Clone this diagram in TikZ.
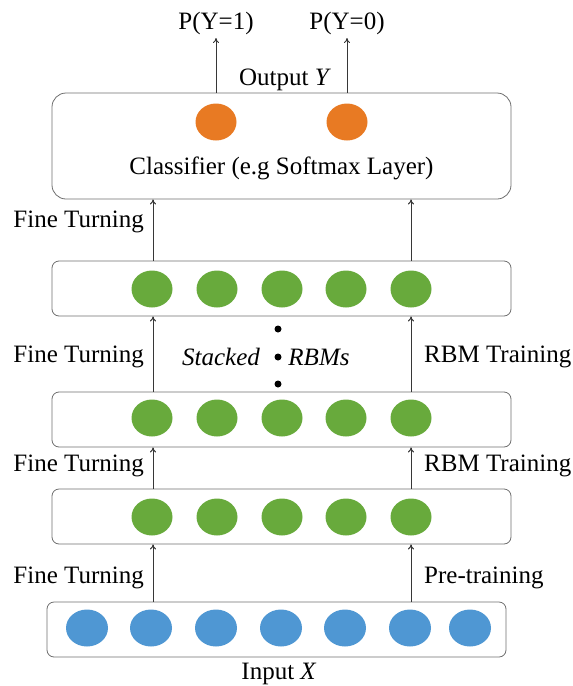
\documentclass[tikz,border=0pt]{standalone}
\usepackage{fontspec}
\setmainfont{Liberation Serif}
\usetikzlibrary{arrows.meta,shapes.geometric}

\definecolor{outorange}{RGB}{232,122,35}
\definecolor{hidgreen}{RGB}{104,170,60}
\definecolor{inblue}{RGB}{79,151,211}
\definecolor{boxline}{RGB}{110,110,110}
\definecolor{arrowgrey}{RGB}{55,55,55}

\begin{document}
\begin{tikzpicture}[x=1pt,y=-1pt,
  layer/.style={draw=boxline, line width=0.8pt, rounded corners=7pt, minimum width=459pt, minimum height=55pt, inner sep=0pt},
  unit/.style={ellipse, minimum width=41pt, minimum height=37pt, inner sep=0pt},
  dot/.style={circle, fill=black, minimum size=7pt, inner sep=0pt},
  lbl/.style={font=\fontsize{25}{30}\selectfont, inner sep=2pt},
  >={To[length=5pt,width=6pt]},
  link/.style={->, line width=1pt, draw=arrowgrey}]

\useasboundingbox (0,0) rectangle (573,686);

% classifier
\node[layer, rounded corners=14pt, minimum height=106pt] (cls) at (281.5,146) {};
\node[lbl] (clstext) at (281.5,168) {Classifier (e.g Softmax Layer)};
\node[unit, fill=outorange] (o1) at (216,122) {};
\node[unit, fill=outorange] (o0) at (347,122) {};
\node[lbl] (outy) at (285,80) {Output \textit{Y}};
\node[lbl, anchor=south, inner sep=3pt] (p1) at (216,38) {P(Y=1)};
\node[lbl, anchor=south, inner sep=3pt] (p0) at (347,38) {P(Y=0)};
\draw[link] (cls.north -| o1) -- (p1.south);
\draw[link] (cls.north -| o0) -- (p0.south);

% stacked RBMs
\node[layer] (rbm3) at (281.5,288.5) {};
\node[unit, fill=hidgreen] (h31) at (152,289) {};
\node[unit, fill=hidgreen] (h32) at (217,289) {};
\node[unit, fill=hidgreen] (h33) at (282,289) {};
\node[unit, fill=hidgreen] (h34) at (346,289) {};
\node[unit, fill=hidgreen] (h35) at (411,289) {};

\node[layer] (rbm2) at (281.5,419.5) {};
\node[unit, fill=hidgreen] (h21) at (152,418) {};
\node[unit, fill=hidgreen] (h22) at (217,418) {};
\node[unit, fill=hidgreen] (h23) at (282,418) {};
\node[unit, fill=hidgreen] (h24) at (346,418) {};
\node[unit, fill=hidgreen] (h25) at (411,418) {};

\node[layer] (rbm1) at (281.5,516.5) {};
\node[unit, fill=hidgreen] (h11) at (152,517) {};
\node[unit, fill=hidgreen] (h12) at (217,517) {};
\node[unit, fill=hidgreen] (h13) at (282,517) {};
\node[unit, fill=hidgreen] (h14) at (346,517) {};
\node[unit, fill=hidgreen] (h15) at (411,517) {};

\node[dot] (d1) at (278,329) {};
\node[dot] (d2) at (278,357) {};
\node[dot] (d3) at (278,384) {};
\node[lbl] (stk) at (221,357) {\textit{Stacked}};
\node[lbl] (rbms) at (319,357) {\textit{RBMs}};

% input layer
\node[layer] (inp) at (276.5,629.5) {};
\node[unit, fill=inblue, minimum width=42pt] (x1) at (87,628) {};
\node[unit, fill=inblue, minimum width=42pt] (x2) at (151,628) {};
\node[unit, fill=inblue, minimum width=42pt] (x3) at (216,628) {};
\node[unit, fill=inblue, minimum width=42pt] (x4) at (281,628) {};
\node[unit, fill=inblue, minimum width=42pt] (x5) at (345,628) {};
\node[unit, fill=inblue, minimum width=42pt] (x6) at (410,628) {};
\node[unit, fill=inblue, minimum width=42pt] (x7) at (470,628) {};
\node[lbl] (inx) at (279,674) {Input \textit{X}};

% training arrows
\coordinate (lft) at (153,0);
\coordinate (rgt) at (411,0);
\draw[link] (inp.north -| lft) -- (rbm1.south -| lft);
\draw[link] (rbm1.north -| lft) -- (rbm2.south -| lft);
\draw[link] (rbm2.north -| lft) -- (rbm3.south -| lft);
\draw[link] (rbm3.north -| lft) -- (cls.south -| lft);
\draw[link] (inp.north -| rgt) -- (rbm1.south -| rgt);
\draw[link] (rbm1.north -| rgt) -- (rbm2.south -| rgt);
\draw[link] (rbm2.north -| rgt) -- (rbm3.south -| rgt);
\draw[link] (rbm3.north -| rgt) -- (cls.south -| rgt);

\node[lbl, anchor=east] (ft4) at (146,222) {Fine Turning};
\node[lbl, anchor=east] (ft3) at (146,357) {Fine Turning};
\node[lbl, anchor=east] (ft2) at (146,466) {Fine Turning};
\node[lbl, anchor=east] (ft1) at (146,578) {Fine Turning};
\node[lbl, anchor=west] (rt2) at (422,357) {RBM Training};
\node[lbl, anchor=west] (rt1) at (422,466) {RBM Training};
\node[lbl, anchor=west] (pre) at (422,578) {Pre-training};

\end{tikzpicture}
\end{document}
